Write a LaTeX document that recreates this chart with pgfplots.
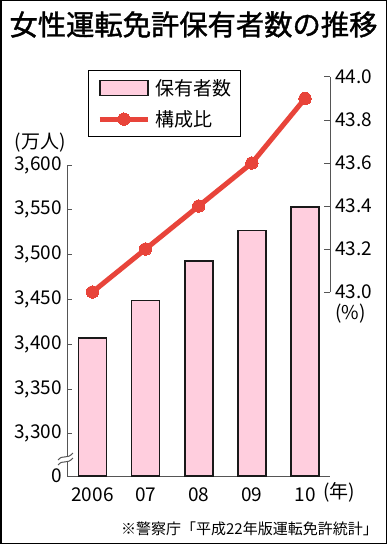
\documentclass[border=0pt]{standalone}
\usepackage{fontspec}
\setmainfont{Noto Sans CJK JP}
\newfontfamily\titlefont{Noto Sans CJK JP}[FakeBold=1.3]
\usepackage{pgfplots}
\pgfplotsset{compat=1.18}
\definecolor{barpink}{RGB}{255,206,222}
\definecolor{linered}{RGB}{232,68,58}
\definecolor{axgray}{RGB}{85,85,85}
\newcommand{\fs}[1]{\fontsize{#1bp}{#1bp}\selectfont}
\pgfplotsset{
  mylinelegend/.style={legend image code/.code={\draw[##1, mark repeat=2, mark phase=2] plot coordinates {(0bp,0bp) (24bp,0bp) (48bp,0bp)};}},
  mybarlegend/.style={legend image code/.code={\draw[##1] (0bp,-7.5bp) rectangle (48bp,7.5bp);}},
}
\begin{document}
\begin{tikzpicture}[x=1bp,y=1bp]
% bars (left axis)
\begin{axis}[
  at={(67bp,-476bp)}, anchor=south west,
  scale only axis, width=263bp, height=311bp,
  xmin=-0.48, xmax=4.47, ymin=3253, ymax=3600,
  axis x line*=bottom, axis y line*=left,
  axis line style={axgray, line width=1bp, -},
  xtick={0,1,2,3,4}, xticklabels={2006,07,08,09,10},
  x tick style={draw=none},
  ytick={3300,3350,3400,3450,3500,3550,3600},
  extra y ticks={3253}, extra y tick labels={0},
  extra y tick style={y tick style={draw=none}},
  tick align=inside, major tick length=5bp,
  y tick style={axgray, line width=1bp},
  tick label style={font=\fs{19}},
  yticklabel style={inner sep=0pt, xshift=-5bp, /pgf/number format/.cd, 1000 sep={,}, assume math mode=true},
  xticklabel style={inner sep=0pt, yshift=-6bp},
  ybar, bar width=28bp,
]
\addplot[fill=barpink, draw=black!90, line width=1.5bp] coordinates {(0,3407) (1,3449) (2,3493) (3,3527) (4,3553)};
\end{axis}
% line (right axis)
\begin{axis}[
  at={(67bp,-292bp)}, anchor=south west,
  scale only axis, width=263bp, height=215bp,
  xmin=-0.48, xmax=4.47, ymin=43, ymax=44,
  axis x line=none, axis y line*=right,
  axis line style={axgray, line width=1bp, -},
  ytick={43,43.2,43.4,43.6,43.8,44},
  tick align=inside, major tick length=6bp,
  y tick style={axgray, line width=1bp},
  tick label style={font=\fs{19}},
  yticklabel style={inner sep=0pt, xshift=5bp, /pgf/number format/.cd, fixed, fixed zerofill, precision=1, assume math mode=true},
  clip=false,
  legend style={at={(0.0798,1.0326)}, anchor=north west, draw=black, line width=1bp,
    font=\fs{19}, cells={anchor=west}, nodes={inner sep=0pt},
    inner xsep=9bp, inner ysep=9bp, row sep=13.5bp, column sep=5bp},
]
\addlegendimage{mybarlegend, fill=barpink, draw=black!90, line width=1.3bp}
\addlegendentry{保有者数}
\addplot[linered, line width=5bp, mark=*, mark size=6.2bp, mark options={fill=linered, draw=linered, line width=0bp}, mylinelegend]
  coordinates {(0,43.0) (1,43.2) (2,43.4) (3,43.6) (4,43.9)};
\addlegendentry{構成比}
\end{axis}
% axis break mark
\fill[white] (58,-460) .. controls (63,-454) and (67,-460) .. (73,-453) -- (73,-458) .. controls (67,-465) and (63,-459) .. (58,-465) -- cycle;
\draw[axgray, line width=1bp] (58,-460) .. controls (63,-454) and (67,-460) .. (73,-453);
\draw[axgray, line width=1bp] (58,-465) .. controls (63,-459) and (67,-465) .. (73,-458);
% texts
\node[font=\titlefont\fs{28.3}] at (193.5,-24.5) {女性運転免許保有者数の推移};
\node[font=\fs{19}] at (40,-143) {(万人)};
\node[font=\fs{19}, anchor=west, inner sep=0pt] at (335,-314) {(\%)};
\node[font=\fs{19}, anchor=west, inner sep=0pt] at (323,-492.5) {(年)};
\node[font=\fs{15}, anchor=east, inner sep=0pt] at (378,-529) {※警察庁「平成22年版運転免許統計」};
\draw[line width=1.5bp] (0.75,-0.75) rectangle (386.25,-543.25);
\pgfresetboundingbox
\useasboundingbox (0,0) rectangle (387,-544);
\end{tikzpicture}
\end{document}
